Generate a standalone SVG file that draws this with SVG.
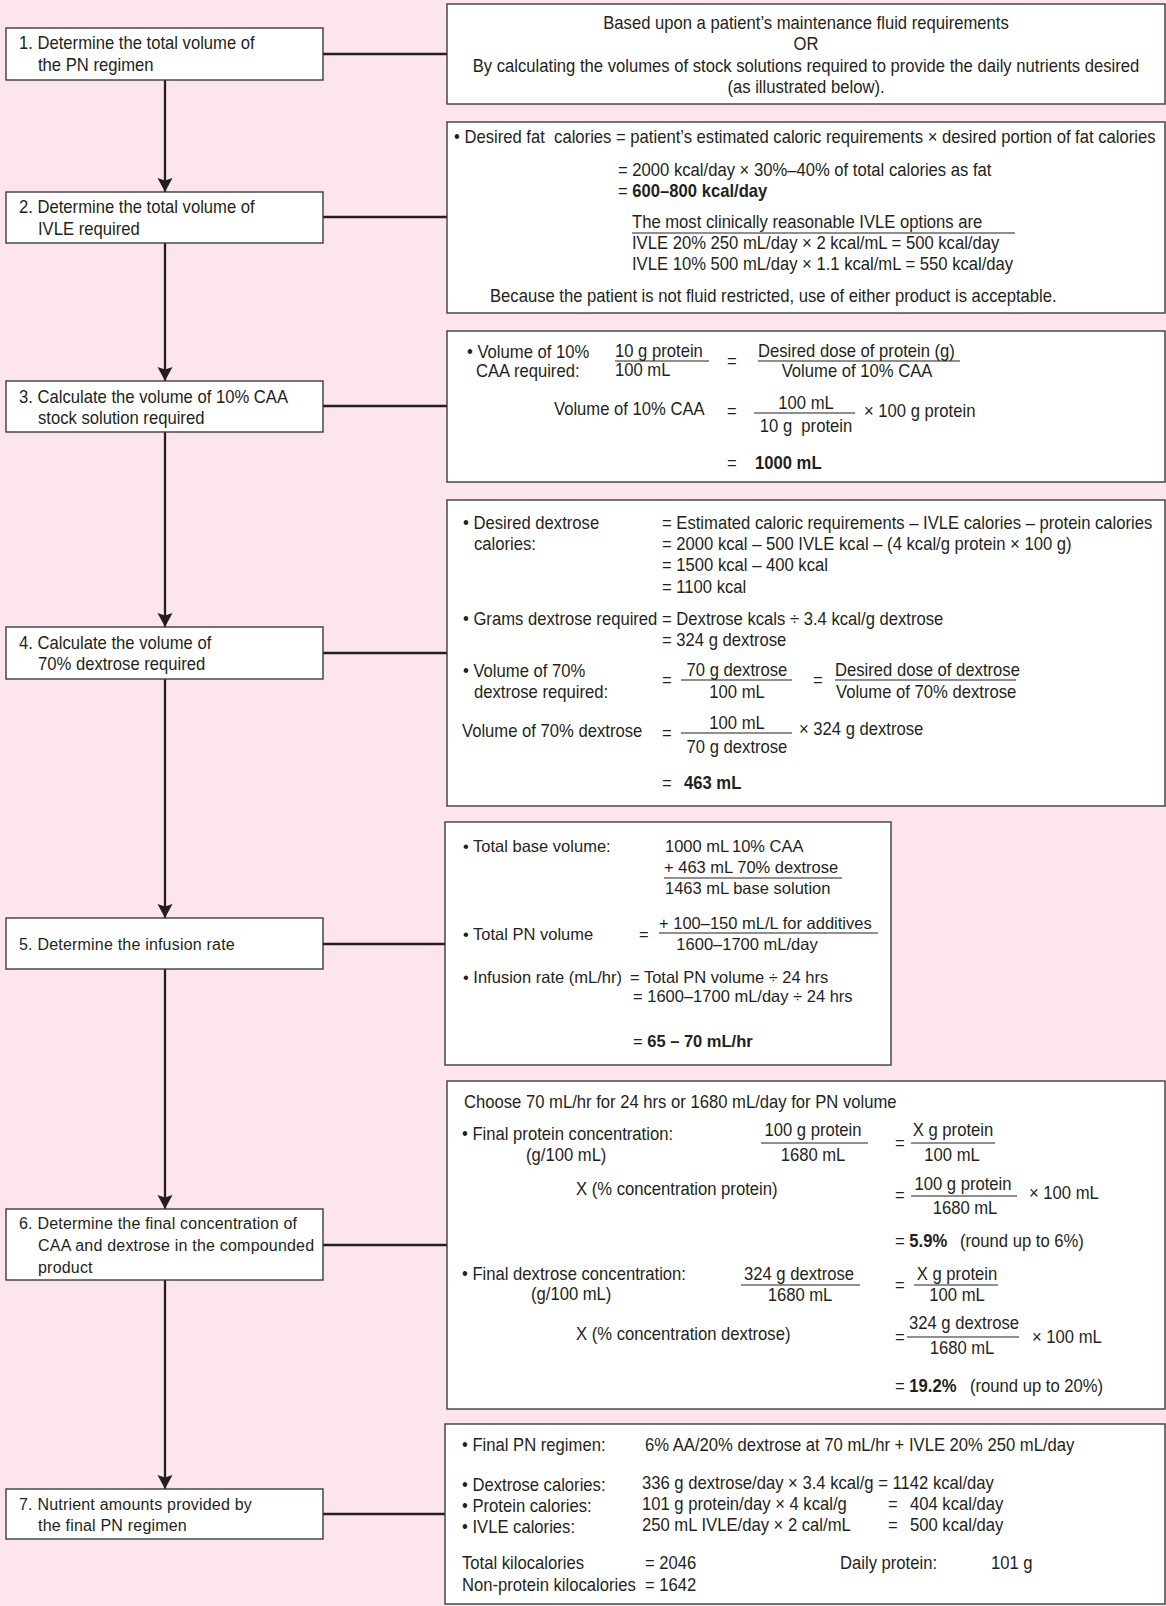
<svg xmlns="http://www.w3.org/2000/svg" width="1166" height="1606" viewBox="0 0 1166 1606">
<style>
text{font-family:"Liberation Sans",Arial,sans-serif;font-size:18.5px;fill:#231f20;transform-box:fill-box;transform-origin:0 0;transform:scaleX(0.9)}
text.m{text-anchor:middle;transform-origin:50% 0}
text.w{font-size:16px;letter-spacing:0.2px;transform:none}
text.r{font-size:16.5px;transform:none}
.b{font-weight:bold}
.box{fill:#fff;stroke:#3c3c3c;stroke-width:1.4}
.link{stroke:#231f20;stroke-width:2.3;fill:none}
.rule{stroke:#231f20;stroke-width:1.2}
</style>
<defs>
<marker id="ah" markerWidth="16" markerHeight="16" refX="14" refY="8" orient="auto" markerUnits="userSpaceOnUse">
<path d="M0,0.5 L14,8 L0,15.5 L2.5,8 Z" fill="#231f20"/>
</marker>
</defs>
<rect width="1166" height="1606" fill="#fce5ef"/>

<g id="connectors">
<line class="link" x1="165" y1="80" x2="165" y2="192" marker-end="url(#ah)"/>
<line class="link" x1="165" y1="243" x2="165" y2="381" marker-end="url(#ah)"/>
<line class="link" x1="165" y1="432" x2="165" y2="627" marker-end="url(#ah)"/>
<line class="link" x1="165" y1="679" x2="165" y2="918" marker-end="url(#ah)"/>
<line class="link" x1="165" y1="969" x2="165" y2="1209" marker-end="url(#ah)"/>
<line class="link" x1="165" y1="1280" x2="165" y2="1489" marker-end="url(#ah)"/>
<line class="link" x1="323" y1="54" x2="447" y2="54"/>
<line class="link" x1="323" y1="217" x2="447" y2="217"/>
<line class="link" x1="323" y1="406" x2="447" y2="406"/>
<line class="link" x1="323" y1="653" x2="447" y2="653"/>
<line class="link" x1="323" y1="944" x2="445" y2="944"/>
<line class="link" x1="323" y1="1245" x2="447" y2="1245"/>
<line class="link" x1="323" y1="1514" x2="445" y2="1514"/>
</g>

<!-- steps -->
<g id="step1">
<rect class="box" x="6" y="28" width="317" height="52"/>
<text x="19" y="49">1. Determine the total volume of</text>
<text x="38" y="71">the PN regimen</text>
</g>
<g id="step2">
<rect class="box" x="6" y="192" width="317" height="51"/>
<text x="19" y="213">2. Determine the total volume of</text>
<text x="38" y="235">IVLE required</text>
</g>
<g id="step3">
<rect class="box" x="6" y="381" width="317" height="51"/>
<text x="19" y="403">3. Calculate the volume of 10% CAA</text>
<text x="38" y="424">stock solution required</text>
</g>
<g id="step4">
<rect class="box" x="6" y="627" width="317" height="52"/>
<text x="19" y="649">4. Calculate the volume of</text>
<text x="38" y="670">70% dextrose required</text>
</g>
<g id="step5">
<rect class="box" x="6" y="918" width="317" height="51"/>
<text class="w" x="19" y="950">5. Determine the infusion rate</text>
</g>
<g id="step6">
<rect class="box" x="6" y="1209" width="317" height="71"/>
<text class="w" x="19" y="1229">6. Determine the final concentration of</text>
<text class="w" x="38" y="1251">CAA and dextrose in the compounded</text>
<text class="w" x="38" y="1273">product</text>
</g>
<g id="step7">
<rect class="box" x="6" y="1489" width="317" height="50"/>
<text class="w" x="19" y="1510">7. Nutrient amounts provided by</text>
<text class="w" x="38" y="1531">the final PN regimen</text>
</g>

<!-- detail panels -->
<g id="detail1">
<rect class="box" x="447" y="4" width="718" height="100"/>
<text class="m" x="806" y="29">Based upon a patient’s maintenance fluid requirements</text>
<text class="m" x="806" y="50">OR</text>
<text class="m" x="806" y="72">By calculating the volumes of stock solutions required to provide the daily nutrients desired</text>
<text class="m" x="806" y="93">(as illustrated below).</text>
</g>

<g id="detail2">
<rect class="box" x="447" y="122" width="718" height="191"/>
<text x="454" y="143" xml:space="preserve">• Desired fat  calories = patient’s estimated caloric requirements × desired portion of fat calories</text>
<text x="618" y="176">= 2000 kcal/day × 30%–40% of total calories as fat</text>
<text x="618" y="197">= <tspan class="b">600–800 kcal/day</tspan></text>
<text x="632" y="228">The most clinically reasonable IVLE options are</text>
<line class="rule" x1="632" y1="233" x2="1015" y2="233"/>
<text x="632" y="249">IVLE 20% 250 mL/day × 2 kcal/mL = 500 kcal/day</text>
<text x="632" y="270">IVLE 10% 500 mL/day × 1.1 kcal/mL = 550 kcal/day</text>
<text x="490" y="302">Because the patient is not fluid restricted, use of either product is acceptable.</text>
</g>

<g id="detail3">
<rect class="box" x="447" y="331" width="718" height="151"/>
<text x="467" y="358">• Volume of 10%</text>
<text x="476" y="377">CAA required:</text>
<text x="615" y="357">10 g protein</text>
<line class="rule" x1="615" y1="361" x2="709" y2="361"/>
<text x="615" y="376">100 mL</text>
<text x="727" y="367">=</text>
<text x="758" y="357">Desired dose of protein (g)</text>
<line class="rule" x1="758" y1="361" x2="960" y2="361"/>
<text class="m" x="857" y="377">Volume of 10% CAA</text>
<text x="554" y="415">Volume of 10% CAA</text>
<text x="727" y="417">=</text>
<text class="m" x="806" y="409">100 mL</text>
<line class="rule" x1="754" y1="413" x2="855" y2="413"/>
<text class="m" x="806" y="432" xml:space="preserve">10 g  protein</text>
<text x="864" y="417">× 100 g protein</text>
<text x="727" y="469">=</text>
<text class="b" x="755" y="469">1000 mL</text>
</g>

<g id="detail4">
<rect class="box" x="447" y="500" width="718" height="306"/>
<text x="463" y="529">• Desired dextrose</text>
<text x="474" y="550">calories:</text>
<text x="662" y="529">= Estimated caloric requirements – IVLE calories – protein calories</text>
<text x="662" y="550">= 2000 kcal – 500 IVLE kcal – (4 kcal/g protein × 100 g)</text>
<text x="662" y="571">= 1500 kcal – 400 kcal</text>
<text x="662" y="593">= 1100 kcal</text>
<text x="463" y="625">• Grams dextrose required</text>
<text x="662" y="625">= Dextrose kcals ÷ 3.4 kcal/g dextrose</text>
<text x="662" y="646">= 324 g dextrose</text>
<text x="463" y="677">• Volume of 70%</text>
<text x="474" y="698">dextrose required:</text>
<text x="662" y="686">=</text>
<text class="m" x="737" y="676">70 g dextrose</text>
<line class="rule" x1="681" y1="680" x2="792" y2="680"/>
<text class="m" x="737" y="698">100 mL</text>
<text x="813" y="686">=</text>
<text x="835" y="676">Desired dose of dextrose</text>
<line class="rule" x1="835" y1="680" x2="1016" y2="680"/>
<text x="836" y="698">Volume of 70% dextrose</text>
<text x="462" y="737">Volume of 70% dextrose</text>
<text x="662" y="739">=</text>
<text class="m" x="737" y="729">100 mL</text>
<line class="rule" x1="681" y1="733" x2="792" y2="733"/>
<text class="m" x="737" y="753">70 g dextrose</text>
<text x="799" y="735">× 324 g dextrose</text>
<text x="662" y="789">=</text>
<text class="b" x="684" y="789">463 mL</text>
</g>

<g id="detail5">
<rect class="box" x="445" y="822" width="446" height="243"/>
<text class="r" x="463" y="852">• Total base volume:</text>
<text class="r" x="665" y="852">1000 mL</text>
<text class="r" x="732" y="852">10% CAA</text>
<text class="r" x="664" y="873">+ 463 mL 70% dextrose</text>
<line class="rule" x1="664" y1="878" x2="842" y2="878"/>
<text class="r" x="665" y="894">1463 mL base solution</text>
<text class="r" x="463" y="940">• Total PN volume</text>
<text class="r" x="639" y="940">=</text>
<text class="r" x="659" y="929">+ 100–150 mL/L for additives</text>
<line class="rule" x1="659" y1="933" x2="878" y2="933"/>
<text class="r" x="747" y="950" text-anchor="middle">1600–1700 mL/day</text>
<text class="r" x="463" y="983">• Infusion rate (mL/hr)</text>
<text class="r" x="630" y="983">= Total PN volume ÷ 24 hrs</text>
<text class="r" x="633" y="1002">= 1600–1700 mL/day ÷ 24 hrs</text>
<text class="r" x="633" y="1047">= <tspan class="b">65 – 70 mL/hr</tspan></text>
</g>

<g id="detail6">
<rect class="box" x="447" y="1081" width="718" height="328"/>
<text x="464" y="1108">Choose 70 mL/hr for 24 hrs or 1680 mL/day for PN volume</text>
<text x="462" y="1140">• Final protein concentration:</text>
<text x="526" y="1161">(g/100 mL)</text>
<text class="m" x="813" y="1136">100 g protein</text>
<line class="rule" x1="761" y1="1143" x2="868" y2="1143"/>
<text class="m" x="813" y="1161">1680 mL</text>
<text x="895" y="1149">=</text>
<text class="m" x="953" y="1136">X g protein</text>
<line class="rule" x1="911" y1="1143" x2="995" y2="1143"/>
<text class="m" x="952" y="1161">100 mL</text>
<text x="576" y="1195">X (% concentration protein)</text>
<text x="895" y="1201">=</text>
<text class="m" x="963" y="1190">100 g protein</text>
<line class="rule" x1="911" y1="1196" x2="1017" y2="1196"/>
<text class="m" x="965" y="1214">1680 mL</text>
<text x="1029" y="1199">× 100 mL</text>
<text x="895" y="1247">= <tspan class="b">5.9%</tspan></text>
<text x="960" y="1247">(round up to 6%)</text>
<text x="462" y="1280">• Final dextrose concentration:</text>
<text x="531" y="1300">(g/100 mL)</text>
<text class="m" x="799" y="1280">324 g dextrose</text>
<line class="rule" x1="741" y1="1285" x2="860" y2="1285"/>
<text class="m" x="800" y="1301">1680 mL</text>
<text x="895" y="1291">=</text>
<text class="m" x="957" y="1280">X g protein</text>
<line class="rule" x1="914" y1="1285" x2="998" y2="1285"/>
<text class="m" x="957" y="1301">100 mL</text>
<text x="576" y="1340">X (% concentration dextrose)</text>
<text x="895" y="1343">=</text>
<text class="m" x="964" y="1329">324 g dextrose</text>
<line class="rule" x1="907" y1="1337" x2="1019" y2="1337"/>
<text class="m" x="962" y="1354">1680 mL</text>
<text x="1032" y="1343">× 100 mL</text>
<text x="895" y="1392">= <tspan class="b">19.2%</tspan></text>
<text x="970" y="1392">(round up to 20%)</text>
</g>

<g id="detail7">
<rect class="box" x="445" y="1424" width="720" height="180"/>
<text x="462" y="1451">• Final PN regimen:</text>
<text x="645" y="1451">6% AA/20% dextrose at 70 mL/hr + IVLE 20% 250 mL/day</text>
<text x="462" y="1491">• Dextrose calories:</text>
<text x="642" y="1489">336 g dextrose/day × 3.4 kcal/g = 1142 kcal/day</text>
<text x="462" y="1512">• Protein calories:</text>
<text x="642" y="1510">101 g protein/day × 4 kcal/g</text>
<text x="888" y="1510">=</text>
<text x="910" y="1510">404 kcal/day</text>
<text x="462" y="1533">• IVLE calories:</text>
<text x="642" y="1531">250 mL IVLE/day × 2 cal/mL</text>
<text x="888" y="1531">=</text>
<text x="910" y="1531">500 kcal/day</text>
<text x="462" y="1569">Total kilocalories</text>
<text x="645" y="1569">= 2046</text>
<text x="840" y="1569">Daily protein:</text>
<text x="991" y="1569">101 g</text>
<text x="462" y="1591">Non-protein kilocalories</text>
<text x="645" y="1591">= 1642</text>
</g>
</svg>
